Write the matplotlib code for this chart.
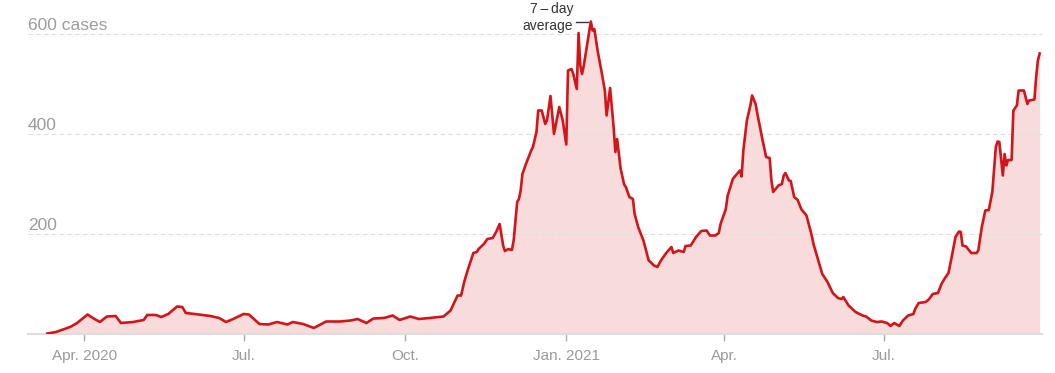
import matplotlib
matplotlib.use('Agg')
import matplotlib.pyplot as plt
import pandas as pd
import numpy as np

# 7-day average of daily cases
dates_2020 = ['2020-03-11', '2020-03-16', '2020-03-24', '2020-03-28', '2020-04-03', '2020-04-06',
              '2020-04-10', '2020-04-14', '2020-04-19', '2020-04-22', '2020-04-29', '2020-05-05',
              '2020-05-07', '2020-05-12', '2020-05-15', '2020-05-19', '2020-05-24', '2020-05-27',
              '2020-05-29', '2020-06-03', '2020-06-12', '2020-06-17', '2020-06-21', '2020-06-25',
              '2020-07-01', '2020-07-04', '2020-07-10', '2020-07-15', '2020-07-20', '2020-07-26',
              '2020-07-29', '2020-08-04', '2020-08-10', '2020-08-17', '2020-08-25', '2020-08-31',
              '2020-09-04', '2020-09-09', '2020-09-13', '2020-09-19', '2020-09-24', '2020-09-28',
              '2020-10-04', '2020-10-09', '2020-10-15', '2020-10-23', '2020-10-27', '2020-10-31',
              '2020-11-02', '2020-11-04', '2020-11-06', '2020-11-09', '2020-11-11', '2020-11-12',
              '2020-11-15', '2020-11-17', '2020-11-20', '2020-11-22', '2020-11-24', '2020-11-26',
              '2020-11-27', '2020-11-29', '2020-12-01', '2020-12-02', '2020-12-04', '2020-12-05',
              '2020-12-06', '2020-12-07', '2020-12-09', '2020-12-12', '2020-12-13', '2020-12-15',
              '2020-12-16', '2020-12-18', '2020-12-20', '2020-12-21', '2020-12-23', '2020-12-25',
              '2020-12-28', '2020-12-30']
cases_2020 = [0, 3, 13, 21, 38, 31,
              23, 34, 35, 21, 23, 27,
              37, 37, 33, 39, 54, 53,
              41, 39, 35, 31, 23, 29,
              39, 38, 19, 18, 23, 18,
              23, 19, 11, 24, 24, 26,
              29, 21, 30, 31, 36, 27,
              34, 29, 31, 34, 46, 76,
              76, 106, 129, 161, 163, 169,
              179, 189, 191, 203, 219, 176,
              165, 169, 167, 186, 263, 269,
              286, 319, 339, 366, 373, 403,
              446, 446, 419, 426, 475, 399,
              453, 426]

dates_2021 = ['2021-01-01', '2021-01-02', '2021-01-04', '2021-01-05', '2021-01-07', '2021-01-08',
              '2021-01-09', '2021-01-10', '2021-01-11', '2021-01-14', '2021-01-15', '2021-01-16',
              '2021-01-17', '2021-01-19', '2021-01-21', '2021-01-23', '2021-01-24', '2021-01-26',
              '2021-01-28', '2021-01-29', '2021-01-30', '2021-02-01', '2021-02-03', '2021-02-04',
              '2021-02-06', '2021-02-08', '2021-02-09', '2021-02-11', '2021-02-14', '2021-02-15',
              '2021-02-17', '2021-02-18', '2021-02-20', '2021-02-22', '2021-02-24', '2021-02-27',
              '2021-03-02', '2021-03-03', '2021-03-06', '2021-03-09', '2021-03-10', '2021-03-13',
              '2021-03-16', '2021-03-19', '2021-03-22', '2021-03-24', '2021-03-27', '2021-03-29',
              '2021-03-30', '2021-04-02', '2021-04-03', '2021-04-06', '2021-04-10', '2021-04-11',
              '2021-04-12', '2021-04-14', '2021-04-16', '2021-04-17', '2021-04-19', '2021-04-20',
              '2021-04-23', '2021-04-25', '2021-04-27', '2021-04-28', '2021-04-29', '2021-05-02',
              '2021-05-04', '2021-05-05', '2021-05-06', '2021-05-08', '2021-05-09', '2021-05-11',
              '2021-05-13', '2021-05-15', '2021-05-18', '2021-05-21', '2021-05-22', '2021-05-25',
              '2021-05-27', '2021-05-30', '2021-06-02', '2021-06-05', '2021-06-07', '2021-06-08',
              '2021-06-11', '2021-06-15', '2021-06-19', '2021-06-21', '2021-06-24', '2021-06-27',
              '2021-06-30', '2021-07-03', '2021-07-05', '2021-07-07', '2021-07-10', '2021-07-12',
              '2021-07-15', '2021-07-18', '2021-07-19', '2021-07-21', '2021-07-25', '2021-07-27',
              '2021-07-29', '2021-08-01', '2021-08-03', '2021-08-05', '2021-08-07', '2021-08-09',
              '2021-08-11', '2021-08-13', '2021-08-14', '2021-08-15', '2021-08-17', '2021-08-20',
              '2021-08-23', '2021-08-24', '2021-08-26', '2021-08-28', '2021-08-30', '2021-09-01',
              '2021-09-03', '2021-09-04', '2021-09-05', '2021-09-07', '2021-09-08', '2021-09-09',
              '2021-09-10', '2021-09-12', '2021-09-13', '2021-09-15', '2021-09-16', '2021-09-19',
              '2021-09-21', '2021-09-22', '2021-09-25', '2021-09-26', '2021-09-27', '2021-09-28']
cases_2021 = [378, 526, 529, 519, 489, 601,
              536, 519, 536, 603, 624, 606,
              609, 563, 526, 486, 436, 491,
              413, 363, 389, 330, 298, 293,
              273, 269, 239, 213, 186, 173,
              146, 143, 136, 133, 146, 161,
              173, 161, 166, 163, 175, 176,
              193, 205, 206, 196, 196, 201,
              219, 249, 275, 309, 326, 314,
              366, 426, 456, 476, 459, 439,
              386, 353, 351, 306, 283, 296,
              299, 316, 321, 306, 305, 273,
              267, 249, 236, 196, 179, 143,
              119, 103, 81, 71, 69, 73,
              56, 43, 36, 34, 26, 23,
              24, 21, 15, 21, 15, 26,
              36, 39, 49, 61, 63, 69,
              79, 81, 99, 111, 121, 156,
              193, 204, 203, 176, 174, 161,
              161, 166, 213, 246, 247, 283,
              373, 384, 383, 316, 359, 336,
              347, 347, 446, 456, 486, 486,
              459, 466, 468, 513, 546, 560]

tick_dates = ['2020-04-01', '2020-07-01', '2020-10-01', '2021-01-01', '2021-04-01', '2021-07-01']
tick_labels = ['Apr. 2020', 'Jul.', 'Oct.', 'Jan. 2021', 'Apr.', 'Jul.']
grid_values = [200, 400, 600]
grid_labels = ['200', '400', '600 cases']

dates = pd.to_datetime(dates_2020 + dates_2021)
cases = np.array(cases_2020 + cases_2021)

plt.rcParams['font.family'] = ['Liberation Sans', 'DejaVu Sans']

W, H = 1055, 373
fig = plt.figure(figsize=(W / 100, H / 100), dpi=100)
ax = fig.add_axes([28 / W, (H - 333.5) / H, (1042 - 28) / W, (333.5 - 3) / H])

ax.fill_between(dates, cases, 0, color='#f8dcdc', lw=0, zorder=1)
ax.plot(dates, cases, color='#d2151a', lw=1.9, solid_joinstyle='round', zorder=3)

ax.set_xlim(pd.Timestamp('2020-02-29'), pd.Timestamp('2021-09-29 08:00'))
ax.set_ylim(0, 661)

# gridlines + labels sitting above them
ax.set_yticks(grid_values)
ax.yaxis.grid(True, color='#dedede', lw=0.8, ls=(0, (4, 3)), zorder=0)
ax.tick_params(axis='y', length=0, labelleft=False)
for v, lab in zip(grid_values, grid_labels):
    ax.text(0, v + 1, lab, transform=ax.get_yaxis_transform(), ha='left', va='bottom',
            fontsize=12.5, color='#9c9c9c')

ax.set_xticks(pd.to_datetime(tick_dates))
ax.set_xticklabels(tick_labels)
ax.tick_params(axis='x', length=5, width=1, color='#aaaaaa', pad=6, labelsize=11,
               labelcolor='#9a9a9a')

for s in ['top', 'right', 'left']:
    ax.spines[s].set_visible(False)
ax.spines['bottom'].set_color('#dddddd')
ax.spines['bottom'].set_linewidth(1.5)

# label on the peak
i = cases.argmax()
pk_date, pk_val = dates[i], cases[i]
ax.plot([pk_date - pd.Timedelta(days=8.5), pk_date - pd.Timedelta(days=1.5)], [pk_val, pk_val],
        color='#333333', lw=1, clip_on=False, zorder=4)
ax.text(pk_date - pd.Timedelta(days=10), pk_val + 8, '7\u2009\u2013\u2009day\naverage', ha='right',
        va='center', fontsize=10, color='#333333', linespacing=1.2, clip_on=False)

fig.savefig('out.png', dpi=100)
